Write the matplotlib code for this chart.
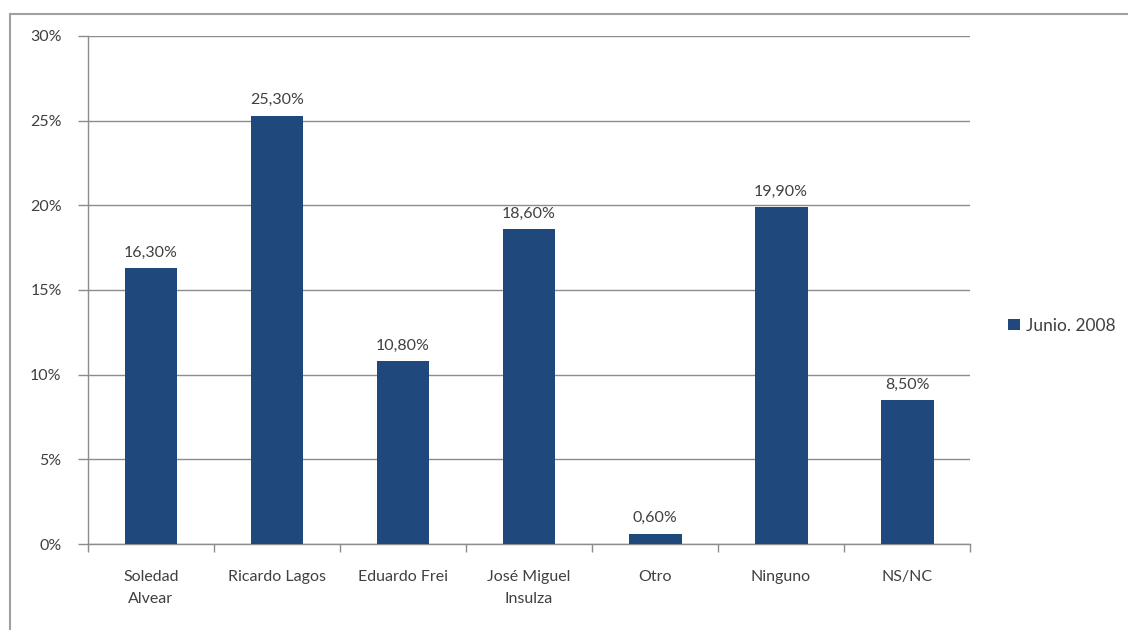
import matplotlib.pyplot as plt
from matplotlib.lines import Line2D
import numpy as np

# Encuesta junio 2008
candidatos = ["Soledad\nAlvear", "Ricardo Lagos", "Eduardo Frei", "José Miguel\nInsulza",
              "Otro", "Ninguno", "NS/NC"]
porcentajes = [16.3, 25.3, 10.8, 18.6, 0.6, 19.9, 8.5]
serie = "Junio. 2008"
yticks = [0, 5, 10, 15, 20, 25, 30]

plt.rcParams["font.family"] = ["Lato", "DejaVu Sans"]
bar_color = "#1F497D"
text_color = "#404040"
grid_color = "#8C8C8C"
fs = 11.5

fig = plt.figure(figsize=(11.28, 6.3), dpi=100)
ax = fig.add_axes([0.078, 0.1365, 0.782, 0.8065])

x = np.arange(len(candidatos))
bars = ax.bar(x, porcentajes, width=0.42, color=bar_color, label=serie, zorder=3)

for b, v in zip(bars, porcentajes):
    ax.text(b.get_x() + b.get_width() / 2, v + 0.5, f"{v:.2f}%".replace(".", ","),
            ha="center", va="bottom", fontsize=fs, color=text_color)

ax.set_xlim(-0.5, len(candidatos) - 0.5)
ax.set_ylim(0, 30)
ax.set_yticks(yticks)
ax.set_yticklabels([f"{t}%" for t in yticks], fontsize=fs, color=text_color)
ax.yaxis.grid(True, color=grid_color, linewidth=1, zorder=0)

ax.set_xticks(x)
ax.set_xticklabels(candidatos, fontsize=fs, color=text_color, linespacing=1.7)
ax.set_xticks(np.arange(len(candidatos) + 1) - 0.5, minor=True)
ax.tick_params(axis="x", which="major", length=0, pad=19)
ax.tick_params(axis="x", which="minor", length=6, color=grid_color, width=1)
ax.tick_params(axis="y", length=7, color=grid_color, width=1, pad=12)

for side in ["top", "right"]:
    ax.spines[side].set_visible(False)
for side in ["left", "bottom"]:
    ax.spines[side].set_color(grid_color)
    ax.spines[side].set_linewidth(1)

leg = fig.legend(handles=[bars], labels=[serie], loc="center left",
                 bbox_to_anchor=(0.88, 0.483), frameon=False, fontsize=12.5,
                 handlelength=0.65, handleheight=0.65, handletextpad=0.35)
for t in leg.get_texts():
    t.set_color(text_color)

# marco exterior del grafico
fig.add_artist(Line2D([0.0089, 1.0], [0.978, 0.978], transform=fig.transFigure,
                      color="#A0A0A0", linewidth=1.5))
fig.add_artist(Line2D([0.0089, 0.0089], [0.0, 0.978], transform=fig.transFigure,
                      color="#A0A0A0", linewidth=1.5))

fig.savefig("out.png", dpi=100)
